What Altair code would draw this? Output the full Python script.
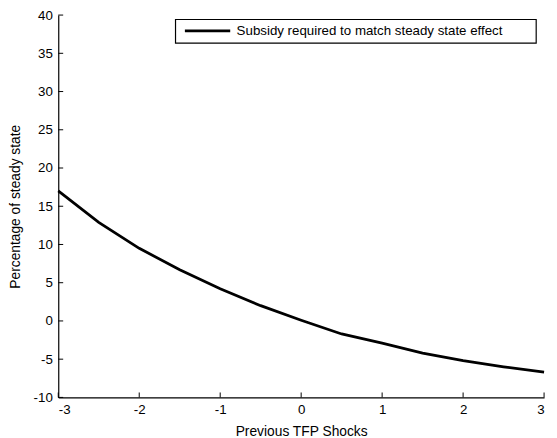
import altair as alt
import pandas as pd

x_vals = [-3, -2.5, -2, -1.5, -1, -0.5, 0, 0.5, 1, 1.5, 2, 2.5, 3]
y_vals = [17.0, 12.9, 9.5, 6.7, 4.2, 2.0, 0.1, -1.7, -2.9, -4.2, -5.2, -6.0, -6.7]
series = "Subsidy required to match steady state effect"
x_ticks = [-3, -2, -1, 0, 1, 2, 3]
y_ticks = [-10, -5, 0, 5, 10, 15, 20, 25, 30, 35, 40]

df = pd.DataFrame({"x": x_vals, "y": y_vals, "s": series})
xt = pd.DataFrame({"v": x_ticks})
yt = pd.DataFrame({"v": y_ticks})
box = pd.DataFrame({"s": [series]})

font = "Liberation Sans"
xs = alt.Scale(domain=[-3, 3], nice=False, zero=False)
ys = alt.Scale(domain=[-10, 40], nice=False, zero=False)

axis_style = dict(ticks=False, labelExpr="'' + datum.value", labelOverlap=False, grid=False,
                  labelFont=font, titleFont=font, labelFontSize=13.5, titleFontSize=14,
                  titleFontWeight="normal", labelColor="black", titleColor="black",
                  domainColor="black", domainWidth=1.2)
xaxis = alt.Axis(values=x_ticks, title="Previous TFP Shocks", labelPadding=5, titlePadding=9, **axis_style)
yaxis = alt.Axis(values=y_ticks, title="Percentage of  steady state", labelPadding=6, titlePadding=11, **axis_style)

legend_box = alt.Chart(box).mark_rect(fill="white", stroke="black", strokeWidth=1.2).encode(
    x=alt.value(119), x2=alt.value(485), y=alt.value(4.5), y2=alt.value(28.5)
)

line = alt.Chart(df).mark_line(strokeWidth=2.8, color="black").encode(
    x=alt.X("x:Q", scale=xs, axis=xaxis),
    y=alt.Y("y:Q", scale=ys, axis=yaxis),
    color=alt.Color("s:N", scale=alt.Scale(range=["black"]),
                    legend=alt.Legend(title=None, orient="none", legendX=127, legendY=-8.5,
                                      symbolType="stroke", symbolSize=2116, symbolStrokeWidth=2.8,
                                      padding=0, labelFontSize=13.5, labelLimit=500,
                                      labelOffset=5,
                                      labelFont=font, labelColor="black")),
)

xtick = alt.Chart(xt).mark_rule(color="black", strokeWidth=1).encode(
    x=alt.X("v:Q", scale=xs, axis=xaxis), y=alt.value(388), y2=alt.value(383)
)
ytick = alt.Chart(yt).mark_rule(color="black", strokeWidth=1).encode(
    y=alt.Y("v:Q", scale=ys, axis=yaxis), x=alt.value(0), x2=alt.value(5)
)

chart = alt.layer(legend_box, line, xtick, ytick).properties(
    width=493, height=388,
    autosize=alt.AutoSizeParams(type="none"),
    padding={"left": 51, "top": 4, "right": 5, "bottom": 38},
).configure(background="white").configure_view(stroke=None)

chart.save("out.html", embed_options={"renderer": "svg", "actions": False})
